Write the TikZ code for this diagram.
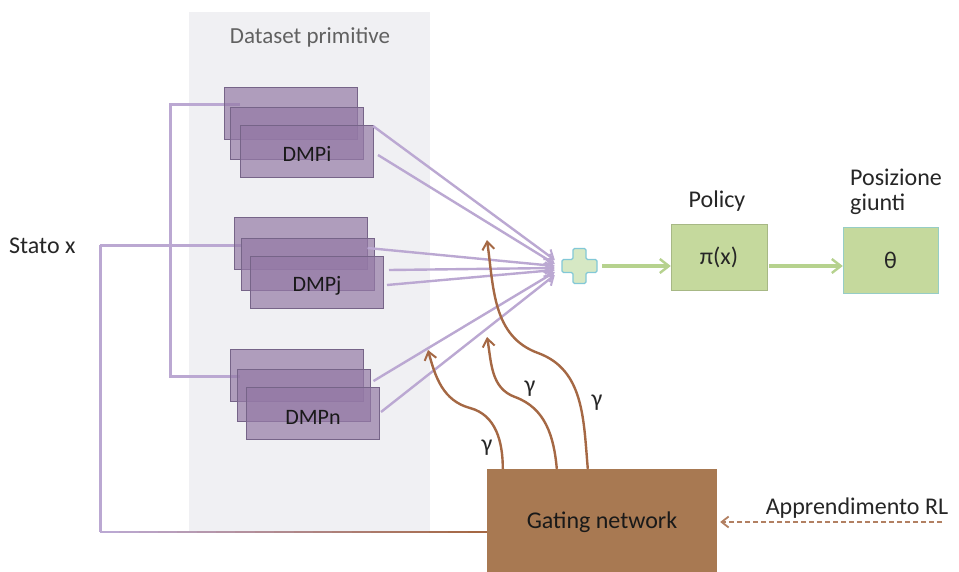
\documentclass[tikz,border=0pt]{standalone}
\usepackage{fontspec}
\setmainfont{Carlito}
\usetikzlibrary{arrows.meta,calc}
\definecolor{panelgray}{RGB}{240,240,243}
\definecolor{lineprp}{RGB}{187,168,210}
\definecolor{dmpfill}{RGB}{148,122,166}
\definecolor{dmpdraw}{RGB}{118,100,136}
\definecolor{grnfill}{RGB}{197,217,157}
\definecolor{grnline}{RGB}{182,210,142}
\definecolor{plusfill}{RGB}{214,232,196}
\definecolor{plusdraw}{RGB}{130,200,215}
\definecolor{brnbox}{RGB}{168,121,82}
\definecolor{brnline}{RGB}{165,104,68}
\definecolor{brndash}{RGB}{178,128,98}
\begin{document}
\begin{tikzpicture}[x=1pt,y=-1pt,
  lbl/.style={font=\fontsize{24}{28}\selectfont, text=black!85},
  dmplbl/.style={font=\fontsize{22}{26}\selectfont, text=black!90},
  dmpbox/.style={draw=dmpdraw, line width=1pt, fill=dmpfill, fill opacity=0.7, minimum width=133pt, minimum height=52pt, inner sep=0pt},
  prpline/.style={draw=lineprp, line width=3pt},
  prparrow/.style={prpline, line width=2.4pt, -{Straight Barb[length=8pt,width=12pt,line width=2pt]}},
  grnbox/.style={fill=grnfill, draw=grnfill!85!black, line width=0.4pt, minimum width=96pt, minimum height=66pt, inner sep=0pt},
  grnarrow/.style={draw=grnline, line width=3.2pt, -{Straight Barb[length=9pt,width=14pt,line width=2.4pt]}},
  brnarrow/.style={draw=brnline, line width=2.4pt, -{Straight Barb[length=8pt,width=12pt,line width=2pt]}},
]
\useasboundingbox (0,0) rectangle (959,571);
\fill[white] (0,0) rectangle (959,571);
% panel
\fill[panelgray] (189,12) rectangle (430,532);
\node[font=\fontsize{23}{26}\selectfont, text=black!62] (title) at (310,37) {Dataset primitive};

% state input
\node[lbl, anchor=west, inner sep=0pt] (stato) at (9,246) {Stato x};
\coordinate (sx) at (100,245);
\coordinate (bus) at (170,245);
\coordinate (busi) at (240,104);
\coordinate (busn) at (240,376);
\coordinate (sxb) at (100,532);
\coordinate (jin) at (242,245);

% input lines (drawn behind the boxes)
\draw[prpline] (sx) -- (jin);
\draw[prpline] (busi) -| (bus) |- (busn);

% bottom feedback line, purple to brown
\draw[prpline] (sx) -- (sxb);
\foreach \i in {0,...,19}{
  \pgfmathsetmacro{\mix}{100-\i*5.26}
  \pgfmathsetmacro{\xa}{100+\i*19.35}
  \pgfmathsetmacro{\xb}{100+(\i+1)*19.35+0.6}
  \colorlet{segcol}{lineprp!\mix!brnline}
  \draw[segcol, line width=2.6pt] (\xa,532) -- (\xb,532);
}

% DMP stacks
\node[dmpbox] (i1) at (290.5,113) {};
\node[dmpbox] (i2) at (296.5,133) {};
\node[dmpbox] (i3) at (307,151) {};
\node[dmplbl] (li) at (307,154) {DMPi};
\node[dmpbox] (j1) at (301,243.5) {};
\node[dmpbox] (j2) at (307.5,264) {};
\node[dmpbox] (j3) at (317,282) {};
\node[dmplbl] (lj) at (317,286) {DMPj};
\node[dmpbox] (n1) at (297,375) {};
\node[dmpbox] (n2) at (303.5,395) {};
\node[dmpbox] (n3) at (313,413) {};
\node[dmplbl] (ln) at (313,417) {DMPn};

% plus / sum node
\node[minimum width=35pt, minimum height=35pt, inner sep=0pt] (plus) at (579.5,266) {};
\draw[fill=plusfill, draw=plusdraw, line width=1.2pt, rounded corners=1.5pt]
  ($(plus.center)+(-6.5,-17.5)$) -- ($(plus.center)+(6.5,-17.5)$) -- ($(plus.center)+(6.5,-6.5)$)
  -- ($(plus.center)+(17.5,-6.5)$) -- ($(plus.center)+(17.5,6.5)$) -- ($(plus.center)+(6.5,6.5)$)
  -- ($(plus.center)+(6.5,17.5)$) -- ($(plus.center)+(-6.5,17.5)$) -- ($(plus.center)+(-6.5,6.5)$)
  -- ($(plus.center)+(-17.5,6.5)$) -- ($(plus.center)+(-17.5,-6.5)$) -- ($(plus.center)+(-6.5,-6.5)$) -- cycle;

% DMP output arrows
\draw[prparrow] ($(i3.east)+(-1,-25)$) -- ($(plus.west)+(-7,-6)$);
\draw[prparrow] ($(i3.east)+(4,4)$) -- ($(plus.west)+(-7,-2)$);
\draw[prparrow] ($(j2.east)+(-7,-16)$) -- ($(plus.west)+(-7,0)$);
\draw[prparrow] ($(j3.east)+(5,-12)$) -- ($(plus.west)+(-7,2)$);
\draw[prparrow] ($(j3.east)+(3,3)$) -- ($(plus.west)+(-7,4)$);
\draw[prparrow] ($(n2.east)+(3,-14)$) -- ($(plus.west)+(-7,6)$);
\draw[prparrow] ($(n3.east)+(1,-1)$) -- ($(plus.west)+(-7,9)$);

% policy and output
\node[grnbox, lbl] (policy) at (719,257) {π(x)};
\node[lbl] (policylbl) at (717,201) {Policy};
\node[grnbox, lbl, minimum width=95pt, draw=plusdraw!70!grnfill] (theta) at (890.5,260) {θ};
\node[lbl, anchor=west, inner sep=0pt] (thetalbl1) at (850,177) {Posizione};
\node[lbl, anchor=west, inner sep=0pt] (thetalbl2) at (850,204) {giunti};
\draw[grnarrow] ([xshift=5pt]plus.east) -- (plus.east -| policy.west);
\draw[grnarrow] ([xshift=2pt]policy.east |- plus.east) -- (plus.east -| theta.west);

% gating network
\node[fill=brnbox, minimum width=230pt, minimum height=106pt, inner sep=0pt, lbl, text=black!90] (gate) at (602,522) {Gating network};
\coordinate (g1) at (428,350);
\coordinate (g2) at (487,337);
\coordinate (g3) at (487,240);
\draw[brnarrow] ([xshift=16pt]gate.north west) to[out=90,in=-15] (470,408) to[out=165,in=-75] (g1);
\draw[brnarrow] ([xshift=70pt]gate.north west) to[out=95,in=-20] (515,397) to[out=160,in=-80] (g2);
\draw[brnarrow] ([xshift=101pt]gate.north west) to[out=95,in=-20] (538,353) to[out=160,in=-82] (g3);
\node[lbl] (gam1) at (487,448) {γ};
\node[lbl] (gam2) at (530,389) {γ};
\node[lbl] (gam3) at (597,403) {γ};

% RL learning input
\coordinate (rl) at (942,522);
\draw[draw=brndash, line width=2.2pt, dashed, dash pattern=on 5pt off 3pt, -{Straight Barb[length=7pt,width=11pt,line width=1.8pt]}] (rl) -- ([xshift=3pt]gate.east);
\node[lbl] (rllbl) at (857,508) {Apprendimento RL};
\end{tikzpicture}
\end{document}
